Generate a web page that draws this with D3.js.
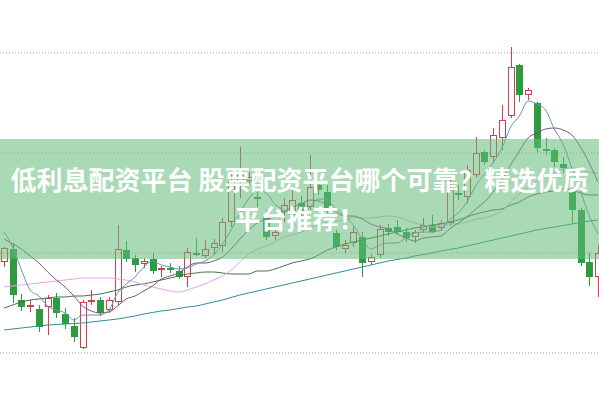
<!DOCTYPE html>
<html>
<head>
<meta charset="utf-8">
<script src="https://cdn.jsdelivr.net/npm/d3@7"></script>
<style>
  html, body { margin: 0; padding: 0; background: #fff; }
  svg { display: block; }
</style>
</head>
<body>
<script>
// candle values
const opens  = [9.90,10.03,9.52,9.45,9.43,9.45,9.54,9.38,9.26,9.04,9.50,9.52,9.42,9.50,10.02,9.94,9.88,9.93,9.82,9.84,9.81,9.75,9.99,9.96,10.04,10.06,10.30,10.70,10.71,10.55,10.37,10.16,10.40,10.37,10.49,10.45,10.67,10.60,10.19,10.03,10.09,10.15,9.90,9.97,10.24,10.25,10.20,10.15,10.22,10.27,10.24,10.29,10.59,10.55,10.77,11.00,10.95,11.14,11.36,11.87,11.57,11.49,11.03,11.02,10.88,10.60,10.42,9.90,9.75];
const highs  = [10.05,10.09,9.58,9.52,9.47,9.57,9.59,9.44,9.34,9.52,9.62,9.55,9.55,10.27,10.11,9.97,9.94,9.99,9.86,9.89,9.86,10.04,10.14,10.12,10.13,10.34,10.79,11.05,10.80,10.60,10.42,10.24,10.54,10.62,10.56,10.97,10.72,10.67,10.22,10.12,10.25,10.20,9.98,10.27,10.28,10.32,10.24,10.22,10.34,10.37,10.32,10.72,10.67,10.87,11.15,11.02,11.24,11.47,12.05,11.88,11.64,11.50,11.14,11.04,10.95,10.64,10.44,9.99,10.07];
const lows   = [9.85,9.49,9.41,9.40,9.20,9.17,9.34,9.23,9.10,9.03,9.47,9.36,9.39,9.47,9.90,9.80,9.84,9.78,9.75,9.79,9.73,9.65,9.96,9.94,9.97,10.00,10.25,10.54,10.66,10.45,10.12,10.12,10.30,10.30,10.34,10.42,10.57,10.39,10.02,9.99,10.05,9.75,9.87,9.94,10.16,10.18,10.10,10.09,10.19,10.19,10.21,10.26,10.52,10.49,10.74,10.87,10.90,11.02,11.34,11.50,11.52,10.99,10.97,10.85,10.79,10.29,9.86,9.66,9.55];
const closes = [10.04,9.57,9.45,9.47,9.25,9.54,9.39,9.28,9.15,9.50,9.52,9.39,9.52,10.03,9.93,9.87,9.91,9.81,9.84,9.82,9.75,10.00,9.97,10.03,10.09,10.30,10.72,10.79,10.75,10.53,10.15,10.20,10.47,10.52,10.40,10.65,10.62,10.42,10.05,10.07,10.20,9.89,9.95,10.23,10.20,10.20,10.14,10.20,10.27,10.20,10.29,10.62,10.57,10.82,10.99,10.90,11.17,11.32,11.85,11.57,11.62,11.04,11.01,10.90,10.84,10.42,9.89,9.75,9.99];

// moving average lines
const ma5  = [10.20,10.05,9.82,9.62,9.56,9.46,9.42,9.39,9.32,9.37,9.37,9.37,9.42,9.59,9.68,9.75,9.85,9.91,9.87,9.85,9.83,9.84,9.88,9.91,9.97,10.08,10.22,10.39,10.53,10.62,10.59,10.48,10.42,10.37,10.35,10.45,10.53,10.52,10.43,10.36,10.27,10.13,10.03,10.07,10.09,10.09,10.14,10.19,10.20,10.20,10.22,10.32,10.39,10.50,10.66,10.78,10.89,11.04,11.25,11.36,11.51,11.48,11.42,11.23,11.08,10.84,10.61,10.36,10.18];
const ma10 = [10.13,10.08,10.03,9.96,9.89,9.80,9.72,9.65,9.56,9.46,9.41,9.39,9.40,9.46,9.53,9.56,9.61,9.66,9.73,9.76,9.79,9.85,9.89,9.89,9.91,9.95,10.03,10.13,10.22,10.29,10.33,10.35,10.40,10.45,10.48,10.52,10.51,10.47,10.40,10.36,10.36,10.33,10.28,10.25,10.23,10.18,10.14,10.11,10.14,10.15,10.16,10.23,10.29,10.35,10.43,10.50,10.60,10.72,10.87,11.01,11.14,11.19,11.23,11.24,11.22,11.17,11.05,10.89,10.70];
const ma20 = [9.65,9.66,9.67,9.68,9.69,9.70,9.71,9.72,9.73,9.74,9.74,9.74,9.74,9.73,9.72,9.70,9.67,9.65,9.63,9.61,9.60,9.62,9.65,9.68,9.72,9.76,9.82,9.90,9.98,10.03,10.06,10.10,10.15,10.17,10.20,10.24,10.27,10.30,10.31,10.32,10.35,10.34,10.34,10.35,10.36,10.35,10.32,10.29,10.27,10.25,10.26,10.28,10.28,10.30,10.33,10.34,10.37,10.41,10.50,10.58,10.65,10.71,10.76,10.79,10.83,10.84,10.82,10.80,10.79];
const ma30 = [9.44,9.47,9.50,9.52,9.53,9.54,9.55,9.55,9.56,9.56,9.57,9.58,9.60,9.62,9.65,9.67,9.68,9.70,9.72,9.74,9.76,9.78,9.79,9.80,9.80,9.79,9.78,9.78,9.78,9.81,9.81,9.83,9.86,9.89,9.91,9.93,9.97,10.02,10.05,10.08,10.10,10.12,10.14,10.16,10.18,10.20,10.22,10.24,10.25,10.27,10.28,10.30,10.32,10.35,10.38,10.40,10.42,10.43,10.47,10.50,10.55,10.58,10.60,10.61,10.63,10.62,10.59,10.57,10.57];
const ma60 = [9.22,9.23,9.24,9.25,9.26,9.27,9.275,9.28,9.285,9.29,9.30,9.31,9.32,9.33,9.345,9.36,9.38,9.395,9.41,9.42,9.435,9.45,9.46,9.48,9.50,9.52,9.545,9.57,9.59,9.61,9.63,9.65,9.67,9.69,9.71,9.73,9.75,9.77,9.79,9.81,9.83,9.85,9.87,9.89,9.91,9.925,9.94,9.96,9.975,9.99,10.01,10.025,10.04,10.06,10.08,10.10,10.12,10.14,10.16,10.18,10.20,10.22,10.235,10.25,10.265,10.28,10.295,10.31,10.32];

const gridValues = [9, 10, 11, 12];
const titleLines = ["低利息配资平台 股票配资平台哪个可靠？精选优质", "平台推荐！"];

const width = 599, height = 399;
const upColor = "#d63c4a", downColor = "#2c9c3e";

let svg = d3.select("body")
  .append("svg")
  .attr("width", width)
  .attr("height", height)

let x = d3.scaleLinear()
  .domain([0, closes.length - 1])
  .range([4, 598])
let y = d3.scaleLinear()
  .domain([9, 12])
  .range([352, 52])

let grid = svg.append("g")
  .call(d3.axisLeft(y).tickValues(gridValues).tickSize(-width).tickFormat(""))
grid.select(".domain").remove()
grid.selectAll("line")
  .attr("stroke", "#a0a0a0")
  .attr("stroke-dasharray", "1,2")
  .attr("transform", "translate(0,0.5)")

let candles = d3.range(closes.length).map(i => ({
  i: i, o: opens[i], h: highs[i], l: lows[i], c: closes[i], up: closes[i] >= opens[i]
}))

let cg = svg.append("g")
let cx = d => Math.round(x(d.i))

// wicks
cg.selectAll(".wick-top")
  .data(candles)
  .enter()
  .append("line")
  .attr("x1", d => cx(d) + 0.5)
  .attr("x2", d => cx(d) + 0.5)
  .attr("y1", d => Math.round(y(d.h)))
  .attr("y2", d => Math.round(y(Math.max(d.o, d.c))))
  .attr("stroke", d => d.up ? upColor : downColor)
cg.selectAll(".wick-bot")
  .data(candles)
  .enter()
  .append("line")
  .attr("x1", d => cx(d) + 0.5)
  .attr("x2", d => cx(d) + 0.5)
  .attr("y1", d => Math.round(y(Math.min(d.o, d.c))))
  .attr("y2", d => Math.round(y(d.l)))
  .attr("stroke", d => d.up ? upColor : downColor)

// bodies
cg.selectAll(".body")
  .data(candles)
  .enter()
  .append("rect")
  .attr("x", d => d.up ? cx(d) - 2.5 : cx(d) - 3)
  .attr("width", d => d.up ? 6 : 7)
  .attr("y", d => {
    let t = Math.round(y(Math.max(d.o, d.c)))
    return d.up ? t + 0.5 : t
  })
  .attr("height", d => {
    let t = Math.round(y(Math.max(d.o, d.c)))
    let b = Math.round(y(Math.min(d.o, d.c)))
    return Math.max(d.up ? b - t - 1 : b - t, 1)
  })
  .attr("fill", d => d.up ? "none" : downColor)
  .attr("stroke", d => d.up ? upColor : "none")

let maLines = [
  { values: ma60, color: "#2f8e98" },
  { values: ma30, color: "#3f7445" },
  { values: ma20, color: "#e6a4e6" },
  { values: ma10, color: "#874a87" },
  { values: ma5,  color: "#5b97b3" }
]

let line = d3.line()
  .x((d, i) => x(i))
  .y(d => y(d))
  .curve(d3.curveMonotoneX)

svg.append("g")
  .selectAll("path")
  .data(maLines)
  .enter()
  .append("path")
  .attr("d", d => line(d.values))
  .attr("fill", "none")
  .attr("stroke", d => d.color)
  .attr("stroke-width", 1)

// title band
svg.append("rect")
  .attr("x", 0)
  .attr("y", 139)
  .attr("width", width)
  .attr("height", 120)
  .attr("fill", "rgba(100,185,120,0.55)")

svg.append("g")
  .selectAll("text")
  .data(titleLines)
  .enter()
  .append("text")
  .attr("x", width / 2)
  .attr("y", (d, i) => 190 + i * 39)
  .attr("text-anchor", "middle")
  .attr("font-family", "'Noto Sans CJK SC', 'Noto Sans', sans-serif")
  .attr("font-weight", "bold")
  .attr("font-size", "26px")
  .attr("fill", "#fff")
  .text(d => d)
</script>
</body>
</html>
